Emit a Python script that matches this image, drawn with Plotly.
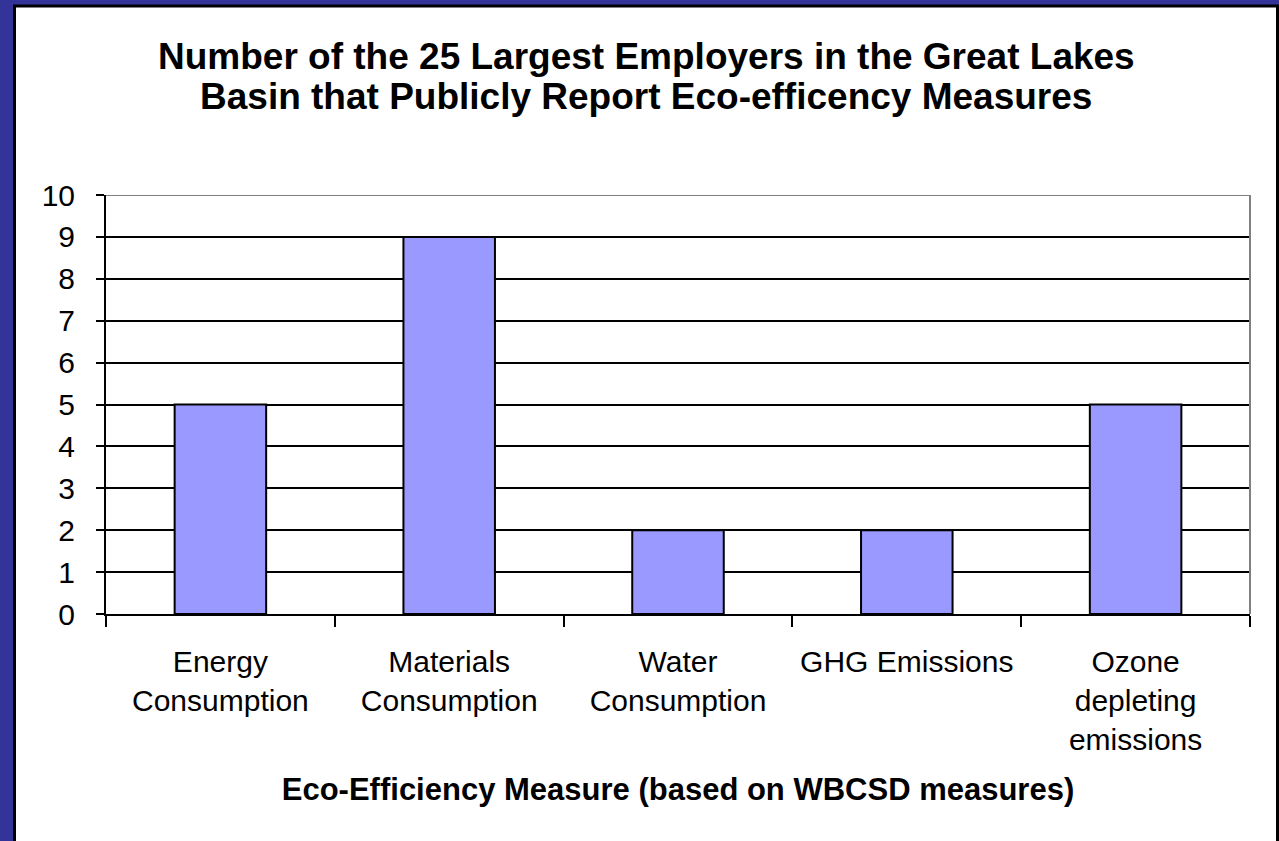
import plotly.graph_objects as go

categories = ["Energy<br>Consumption", "Materials<br>Consumption", "Water<br>Consumption",
              "GHG Emissions", "Ozone<br>depleting<br>emissions"]
values = [5, 9, 2, 2, 5]
y_ticks = list(range(0, 11))
title_lines = ["Number of the 25 Largest Employers in the Great Lakes",
               "Basin that Publicly Report Eco-efficency Measures"]
x_title = "Eco-Efficiency Measure (based on WBCSD measures)"

W, H = 1279, 841
L, R, T, B = 106, 1250, 195, 614

def px(x):
    return (x - L) / (R - L)

def py(y):
    return (B - y) / (B - T)

FONT = "Liberation Sans, Arial, sans-serif"

fig = go.Figure(go.Bar(
    x=categories, y=values,
    marker=dict(color="#9999FF", line=dict(color="black", width=2)),
    width=0.4,
))

annotations = [
    dict(text="<b>%s</b>" % title_lines[0], xref="paper", yref="paper",
         x=px(646), y=py(56), xanchor="center", yanchor="middle", showarrow=False,
         font=dict(size=37, family=FONT, color="black")),
    dict(text="<b>%s</b>" % title_lines[1], xref="paper", yref="paper",
         x=px(646), y=py(96), xanchor="center", yanchor="middle", showarrow=False,
         font=dict(size=37, family=FONT, color="black")),
]

fig.update_layout(
    width=W, height=H,
    margin=dict(l=L, r=W - R, t=T, b=H - B, pad=0),
    paper_bgcolor="#333399",
    plot_bgcolor="rgba(0,0,0,0)",
    showlegend=False,
    font=dict(family=FONT, color="black", size=30),
    bargap=0.6,
    annotations=annotations,
    shapes=[
        dict(type="rect", xref="paper", yref="paper", layer="below",
             x0=px(14.5), x1=px(1277.5), y0=py(860), y1=py(6),
             fillcolor="white", line=dict(color="black", width=3)),
        dict(type="line", xref="paper", yref="y", layer="above",
             x0=0, x1=1, y0=10, y1=10, line=dict(color="#808080", width=2)),
        dict(type="line", xref="paper", yref="y", layer="above",
             x0=1, x1=1, y0=0, y1=10, line=dict(color="#808080", width=2)),
    ],
)

fig.update_yaxes(
    range=[0, 10], tickvals=y_ticks, ticktext=[str(v) for v in y_ticks],
    showgrid=True, gridcolor="black", gridwidth=2,
    showline=True, linecolor="black", linewidth=2,
    ticks="outside", ticklen=8, tickwidth=2, tickcolor="black",
    ticklabelstandoff=15,
    tickfont=dict(size=30, family=FONT, color="black"),
    zeroline=False, fixedrange=True,
)

fig.update_xaxes(
    showgrid=False,
    showline=True, linecolor="black", linewidth=2,
    ticks="outside", ticklen=11, tickwidth=2, tickcolor="black",
    tickson="boundaries",
    ticklabelstandoff=20,
    tickfont=dict(size=30, family=FONT, color="black"),
    title=dict(text="<b>%s</b>" % x_title,
               font=dict(size=31, family=FONT, color="black"), standoff=23),
    tickangle=0,
    fixedrange=True,
)

fig.write_html("out.html", config={"displayModeBar": False},
               post_script="document.body.style.margin='0';")
